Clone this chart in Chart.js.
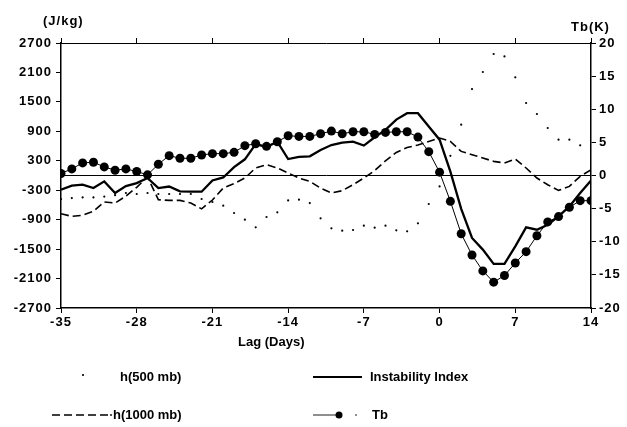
<!DOCTYPE html>
<html><head><meta charset="utf-8">
<script src="https://cdn.jsdelivr.net/npm/chart.js@4.4.1/dist/chart.umd.min.js"></script>
<style>
html,body{margin:0;padding:0;background:#fff;}
#wrap{position:relative;width:627px;height:427px;overflow:hidden;background:#fff;}
canvas{position:absolute;left:0;top:0;}
.t{position:absolute;font-family:"Liberation Sans",Arial,Helvetica,sans-serif;font-weight:bold;font-size:13px;color:#000;white-space:nowrap;line-height:1;}
</style></head><body>
<div id="wrap">
<canvas id="c" width="627" height="427"></canvas>
<div class="t" style="left:43px;top:14px;letter-spacing:1px">(J/kg)</div>
<div class="t" style="left:571px;top:20px;letter-spacing:1px">Tb(K)</div>
<div class="t" style="left:238px;top:335px">Lag (Days)</div>
<div class="t" style="left:120px;top:370px">h(500 mb)</div>
<div class="t" style="left:370px;top:370px">Instability Index</div>
<div class="t" style="left:113px;top:408px">h(1000 mb)</div>
<div class="t" style="left:372px;top:408px">Tb</div>
</div>
<script>
const days = [-35,-34,-33,-32,-31,-30,-29,-28,-27,-26,-25,-24,-23,-22,-21,-20,-19,-18,-17,-16,-15,-14,-13,-12,-11,-10,-9,-8,-7,-6,-5,-4,-3,-2,-1,0,1,2,3,4,5,6,7,8,9,10,11,12,13,14];

const instabilityIndex = [-290,-208,-188,-256,-120,-357,-215,-154,-51,-256,-225,-323,-330,-330,-100,-40,170,330,640,580,690,336,380,390,520,620,670,690,610,780,930,1140,1270,1270,1000,730,80,-680,-1273,-1510,-1800,-1800,-1444,-1057,-1104,-1003,-833,-630,-357,-100];

const h1000 = [-780,-833,-810,-730,-540,-561,-420,-240,-30,-493,-507,-507,-561,-680,-500,-256,-167,-51,153,220,153,51,-51,-120,-256,-357,-310,-188,-50,100,300,470,570,620,695,764,695,491,424,357,288,255,336,153,-51,-188,-303,-222,-17,118];

const h500 = [-480,-459,-446,-446,-430,-400,-357,-377,-357,-377,-377,-377,-377,-479,-540,-615,-764,-900,-1057,-846,-751,-507,-493,-561,-873,-1077,-1125,-1111,-1023,-1063,-1023,-1118,-1138,-975,-581,-222,400,1035,1762,2109,2476,2427,2000,1477,1253,968,730,730,614,526];

const tb = [0.3,1.0,1.9,2.0,1.3,0.8,1.0,0.6,0.1,1.7,3.0,2.6,2.6,3.1,3.3,3.3,3.5,4.5,4.8,4.4,5.1,6.0,5.9,5.9,6.3,6.7,6.3,6.6,6.6,6.2,6.5,6.6,6.6,5.8,3.6,0.5,-3.9,-8.8,-12.0,-14.4,-16.1,-15.1,-13.2,-11.5,-9.1,-7.0,-6.2,-4.8,-3.8,-3.8];

const xTicks = [-35,-28,-21,-14,-7,0,7,14];
const leftTicks = [-2700,-2100,-1500,-900,-300,300,900,1500,2100,2700];
const rightTicks = [-20,-15,-10,-5,0,5,10,15,20];

const pts = arr => days.map((d,i)=>({x:d,y:arr[i]}));

const legendMarks = {
  id:'legendMarks',
  afterDraw(chart){
    const ctx = chart.ctx;
    ctx.save();
    ctx.letterSpacing = '0px';
    ctx.fillStyle = '#000'; ctx.strokeStyle = '#000';
    ctx.beginPath(); ctx.arc(83,375,1.1,0,Math.PI*2); ctx.fill();
    ctx.lineWidth = 2; ctx.beginPath(); ctx.moveTo(313,377); ctx.lineTo(362,377); ctx.stroke();
    ctx.lineWidth = 1.6; ctx.setLineDash([8,4]); ctx.beginPath(); ctx.moveTo(52,415); ctx.lineTo(108,415); ctx.stroke();
    ctx.setLineDash([]);
    ctx.beginPath(); ctx.arc(111,415,0.9,0,Math.PI*2); ctx.fill();
    ctx.lineWidth = 1.2; ctx.strokeStyle='#444'; ctx.beginPath(); ctx.moveTo(313,415); ctx.lineTo(338,415); ctx.stroke();
    ctx.beginPath(); ctx.arc(339,415,3.5,0,Math.PI*2); ctx.fill();
    ctx.beginPath(); ctx.arc(356,415,0.8,0,Math.PI*2); ctx.fill();
    ctx.restore();
  }
};
const spacing = {
  id:'spacing',
  beforeDraw(chart){ chart.ctx.letterSpacing = '1px'; },
};

Chart.defaults.font.family = '"Liberation Sans", Arial, Helvetica, sans-serif';
Chart.defaults.font.size = 13;
Chart.defaults.font.weight = 'bold';
Chart.defaults.color = '#000';

new Chart(document.getElementById('c'), {
  type:'line',
  data:{
    datasets:[
      {label:'Tb', data:pts(tb), yAxisID:'y1', xAxisID:'x', borderColor:'#000', borderWidth:1, pointRadius:4.5, pointBackgroundColor:'#000', pointBorderColor:'#000', pointBorderWidth:0, tension:0},
      {label:'Instability Index', data:pts(instabilityIndex), yAxisID:'y', xAxisID:'x', borderColor:'#000', borderWidth:2.3, pointRadius:0, tension:0},
      {label:'h(1000 mb)', data:pts(h1000), yAxisID:'y', xAxisID:'x', borderColor:'#000', borderWidth:1.6, borderDash:[8,4], pointRadius:0, tension:0},
      {label:'h(500 mb)', data:pts(h500), yAxisID:'y', xAxisID:'x', showLine:false, borderColor:'#000', pointRadius:1.1, pointBackgroundColor:'#000', pointBorderWidth:0}
    ]
  },
  options:{
    responsive:false, animation:false, devicePixelRatio:1,
    layout:{padding:{top:38,bottom:89,left:0,right:0}},
    plugins:{legend:{display:false}, tooltip:{enabled:false}},
    scales:{
      x:{type:'linear', position:'bottom', min:-35, max:14,
         afterBuildTicks:s=>{s.ticks = xTicks.map(v=>({value:v}));},
         afterFit:s=>{s.height=30;},
         ticks:{padding:2, maxRotation:0, autoSkip:false},
         grid:{drawOnChartArea:false, tickLength:5, color:'#000', tickColor:'#000', lineWidth:1},
         border:{display:true, color:'#000', width:1.5}},
      x2:{type:'linear', position:'top', min:-35, max:14,
         afterBuildTicks:s=>{s.ticks = xTicks.map(v=>({value:v}));},
         afterFit:s=>{s.height=5;},
         ticks:{display:false},
         grid:{drawOnChartArea:false, tickLength:5, color:'#000', tickColor:'#000', lineWidth:1},
         border:{display:true, color:'#000', width:1}},
      y:{type:'linear', position:'left', min:-2700, max:2700,
         afterBuildTicks:s=>{s.ticks = leftTicks.concat([0]).map(v=>({value:v}));},
         afterFit:s=>{s.width=61;},
         ticks:{padding:4, callback:v=> v===0 ? '' : String(v)},
         grid:{drawOnChartArea:true, tickLength:5,
               color:c=> (c.tick && c.tick.value===0) ? '#000' : 'rgba(0,0,0,0)',
               tickColor:c=> (c.tick && c.tick.value===0) ? 'rgba(0,0,0,0)' : '#000',
               lineWidth:1},
         border:{display:true, color:'#000', width:1.5}},
      y1:{type:'linear', position:'right', min:-20, max:20,
         afterBuildTicks:s=>{s.ticks = rightTicks.map(v=>({value:v}));},
         afterFit:s=>{s.width=36;},
         ticks:{padding:3},
         grid:{drawOnChartArea:false, tickLength:5, color:'#000', tickColor:'#000', lineWidth:1},
         border:{display:true, color:'#000', width:1.5}}
    }
  },
  plugins:[spacing, legendMarks]
});
</script>
</body></html>
